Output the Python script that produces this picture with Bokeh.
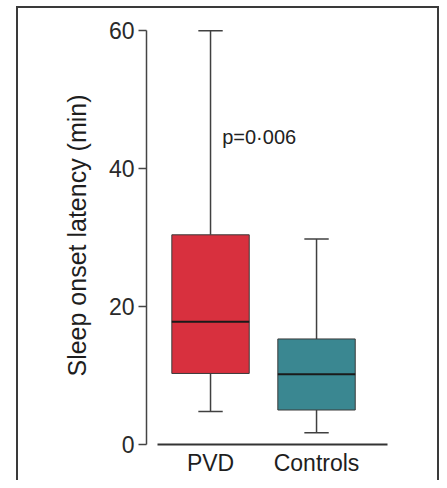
from bokeh.plotting import figure
from bokeh.models import FixedTicker, Label
from bokeh.embed import file_html
from bokeh.resources import INLINE

# ---- data ----
categories = ["PVD", "Controls"]
whisker_low = [4.8, 1.7]
q1 = [10.3, 5.0]
median = [17.8, 10.2]
q3 = [30.4, 15.3]
whisker_high = [60.0, 29.8]
box_colors = ["#d8303e", "#3a8791"]
y_ticks = [0, 20, 40, 60]
p_text = "p=0·006"

xs = [i + 1 for i in range(len(categories))]

p = figure(width=439, height=480, x_range=(0.396, 2.943), y_range=(0, 60.6),
           output_backend="svg", toolbar_location=None,
           min_border_left=146, min_border_right=23, min_border_top=26, min_border_bottom=36)
p.border_fill_color = None
p.background_fill_color = None
p.outline_line_color = None
p.styles = {"box-shadow": ("inset 16px 0 0 #ffffff, inset 0 6px 0 #ffffff, "
                           "inset 18px 0 0 #3a3a3a, inset 0 8px 0 #3a3a3a, inset -2px 0 0 #3a3a3a")}
p.xgrid.visible = False
p.ygrid.visible = False

# whiskers
wc = "#404040"
p.segment(x0=xs, y0=q3, x1=xs, y1=whisker_high, line_color=wc, line_width=1.5)
p.segment(x0=xs, y0=q1, x1=xs, y1=whisker_low, line_color=wc, line_width=1.5)
cap = 0.23
p.segment(x0=[x - cap / 2 for x in xs], y0=whisker_high, x1=[x + cap / 2 for x in xs], y1=whisker_high,
          line_color=wc, line_width=1.5)
p.segment(x0=[x - cap / 2 for x in xs], y0=whisker_low, x1=[x + cap / 2 for x in xs], y1=whisker_low,
          line_color=wc, line_width=1.5)

# boxes
bw = 0.73
p.vbar(x=xs, width=bw, top=q3, bottom=q1, fill_color=box_colors, line_color="#3a3a3a", line_width=1)
p.segment(x0=[x - bw / 2 for x in xs], y0=median, x1=[x + bw / 2 for x in xs], y1=median,
          line_color="#1a1a1a", line_width=2)

# p-value
p.add_layout(Label(x=1.11, y=44.6, text=p_text, text_font="Liberation Sans", text_font_size="20px",
                   text_color="#222222", text_baseline="middle"))

# y axis
ya = p.yaxis[0]
ya.ticker = FixedTicker(ticks=y_ticks)
ya.bounds = (0, 60)
ya.axis_label = "Sleep onset latency (min)"
ya.axis_label_text_font = "Liberation Sans"
ya.axis_label_text_font_style = "normal"
ya.axis_label_text_font_size = "25px"
ya.axis_label_text_color = "#1e1e1e"
ya.axis_label_standoff = 15
ya.major_label_text_font = "Liberation Sans"
ya.major_label_text_font_size = "23px"
ya.major_label_text_color = "#2a2a2a"
ya.major_label_standoff = 4
ya.major_tick_out = 8
ya.major_tick_in = 0
ya.minor_tick_out = 0
ya.minor_tick_in = 0
ya.axis_line_color = "#444444"
ya.axis_line_width = 1.5
ya.major_tick_line_color = "#444444"
ya.major_tick_line_width = 1.5

# x axis
xa = p.xaxis[0]
xa.ticker = FixedTicker(ticks=xs)
xa.major_label_overrides = {x: c for x, c in zip(xs, categories)}
xa.bounds = (0.5, 2.67)
xa.major_tick_out = 0
xa.major_tick_in = 0
xa.minor_tick_out = 0
xa.minor_tick_in = 0
xa.major_label_text_font = "Liberation Sans"
xa.major_label_text_font_size = "23px"
xa.major_label_text_color = "#1e1e1e"
xa.major_label_standoff = 5
xa.axis_line_color = "#333333"
xa.axis_line_width = 2

open("out.html", "w").write(file_html(p, INLINE))
